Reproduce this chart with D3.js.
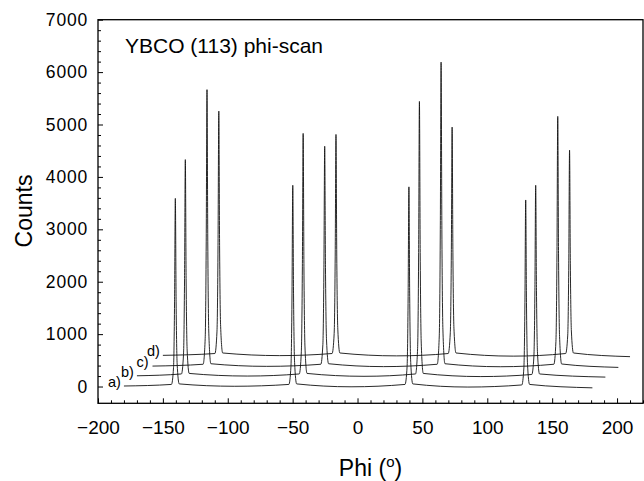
<!DOCTYPE html>
<html><head><meta charset="utf-8">
<script src="https://cdn.jsdelivr.net/npm/d3@7"></script>
<style>
body{margin:0;background:#fff;}
text{font-family:"Liberation Sans",Arial,sans-serif;fill:#000;}
</style></head>
<body><svg id="c" width="644" height="481"></svg>
<script>
// Data: [phi (deg), counts]
const traceA = [[-180,10],[-143.4,40],[-141.8,359],[-141.0,1616],[-140.4,3590],[-139.8,1616],[-139.0,431],[-137.4,50],
 [-95,5],[-52.9,40],[-51.3,384],[-50.5,1728],[-49.9,3840],[-49.3,1728],[-48.5,461],[-46.9,50],
 [-5,-5],[36.6,40],[38.2,381],[39.0,1715],[39.6,3810],[40.2,1715],[41.0,457],[42.6,50],
 [85,-10],[126.6,30],[128.2,356],[129.0,1602],[129.6,3560],[130.2,1602],[131.0,427],[132.6,40],[181,-25]];
const traceB = [[-170,205],[-135.7,240],[-134.1,613],[-133.3,2059],[-132.7,4330],[-132.1,2059],[-131.3,696],[-129.7,250],
 [-85,200],[-44.9,240],[-43.3,663],[-42.5,2284],[-41.9,4830],[-41.3,2284],[-40.5,756],[-38.9,250],
 [5,195],[44.7,240],[46.3,724],[47.1,2558],[47.7,5440],[48.3,2558],[49.1,829],[50.7,250],
 [95,190],[134.3,230],[135.9,564],[136.7,1838],[137.3,3840],[137.9,1838],[138.7,637],[140.3,240],[191,180]];
const traceC = [[-158,390],[-119.0,425],[-117.4,913],[-116.6,2761],[-116.0,5665],[-115.4,2761],[-114.6,1019],[-113.0,435],
 [-70,385],[-28.3,425],[-26.7,805],[-25.9,2275],[-25.3,4585],[-24.7,2275],[-23.9,889],[-22.3,435],
 [20,380],[61.4,425],[63.0,966],[63.8,2997],[64.4,6190],[65.0,2997],[65.8,1082],[67.4,435],
 [110,378],[151.3,425],[152.9,862],[153.7,2532],[154.3,5155],[154.9,2532],[155.7,957],[157.3,430],[201,365]];
const traceD = [[-150,595],[-109.9,630],[-108.3,1057],[-107.5,2689],[-106.9,5255],[-106.3,2689],[-105.5,1150],[-103.9,640],
 [-60,590],[-19.6,630],[-18.0,1012],[-17.2,2489],[-16.6,4810],[-16.0,2489],[-15.2,1096],[-13.6,640],
 [30,585],[69.9,630],[71.5,1026],[72.3,2552],[72.9,4950],[73.5,2552],[74.3,1113],[75.9,640],
 [120,580],[160.4,630],[162.0,982],[162.8,2354],[163.4,4510],[164.0,2354],[164.8,1060],[166.4,640],[210,570]];
const traces = [traceA, traceB, traceC, traceD];
const traceLabels = ["a)", "b)", "c)", "d)"];
const xTicks = [-200,-150,-100,-50,0,50,100,150,200];
const yTicks = [0,1000,2000,3000,4000,5000,6000,7000];
const xDomain = [-200, 220];
const yDomain = [-320, 7000];
const titleText = "YBCO (113) phi-scan";

const svg = d3.select("#c");
const L=98, R=643, T=19.7, B=403.3;
const x = d3.scaleLinear().domain(xDomain).range([L,R]);
const y = d3.scaleLinear().domain(yDomain).range([B,T]);

// frame
svg.append("rect").attr("x",L).attr("y",T).attr("width",R-L).attr("height",B-T)
  .attr("fill","none").attr("stroke","#000").attr("stroke-width",1.3);

// minor ticks
const xMinor = d3.range(-200, 221, 10).filter(v=>v%50!==0);
const yMinor = d3.range(0, 7001, 200).filter(v=>v%1000!==0);
const gx = svg.append("g").attr("transform",`translate(0,${B})`);
gx.call(d3.axisBottom(x).tickValues(xMinor).tickSize(-3).tickFormat(""));
gx.call(g=>g.select(".domain").remove());
const gx2 = svg.append("g").attr("transform",`translate(0,${B})`);
gx2.call(d3.axisBottom(x).tickValues(xTicks).tickSize(-5).tickPadding(20)
   .tickFormat(d=>d<0?"\u2212"+Math.abs(d):String(d)));
gx2.select(".domain").remove();
gx2.selectAll("text").attr("font-size",19).attr("font-family","Liberation Sans, Arial, sans-serif").attr("dy","0.55em");
const gy = svg.append("g").attr("transform",`translate(${L},0)`);
gy.call(d3.axisLeft(y).tickValues(yMinor).tickSize(-3).tickFormat(""));
gy.select(".domain").remove();
const gy2 = svg.append("g").attr("transform",`translate(${L},0)`);
gy2.call(d3.axisLeft(y).tickValues(yTicks).tickSize(-5).tickPadding(10).tickFormat(d3.format("d")));
gy2.select(".domain").remove();
gy2.selectAll("text").attr("font-size",17.5).attr("letter-spacing","0.8px").attr("font-family","Liberation Sans, Arial, sans-serif");
svg.selectAll(".tick line").attr("stroke","#000").attr("stroke-width",1);

// traces
const line = d3.line().x(d=>x(d[0])).y(d=>y(d[1])).curve(d3.curveMonotoneX);
svg.append("g").selectAll("path").data(traces).join("path")
  .attr("d",line).attr("fill","none").attr("stroke","#111").attr("stroke-width",0.9);

// trace labels
svg.append("g").selectAll("text").data(traces).join("text")
  .attr("x",d=>x(d[0][0])-16).attr("y",d=>y(d[0][1])+1)
  .attr("font-size",14.5).text((d,i)=>traceLabels[i]);

// title
svg.append("text").attr("x",125).attr("y",53).attr("font-size",21).text(titleText);

// axis titles
const xt = svg.append("text").attr("x",(L+R)/2).attr("y",476).attr("text-anchor","middle").attr("font-size",23);
xt.append("tspan").text("Phi (");
xt.append("tspan").attr("font-size",15).attr("dy",-9).text("o");
xt.append("tspan").attr("dy",9).text(")");
svg.append("text").attr("transform","translate(32,211) rotate(-90)").attr("text-anchor","middle")
  .attr("font-size",23).text("Counts");
</script></body></html>
